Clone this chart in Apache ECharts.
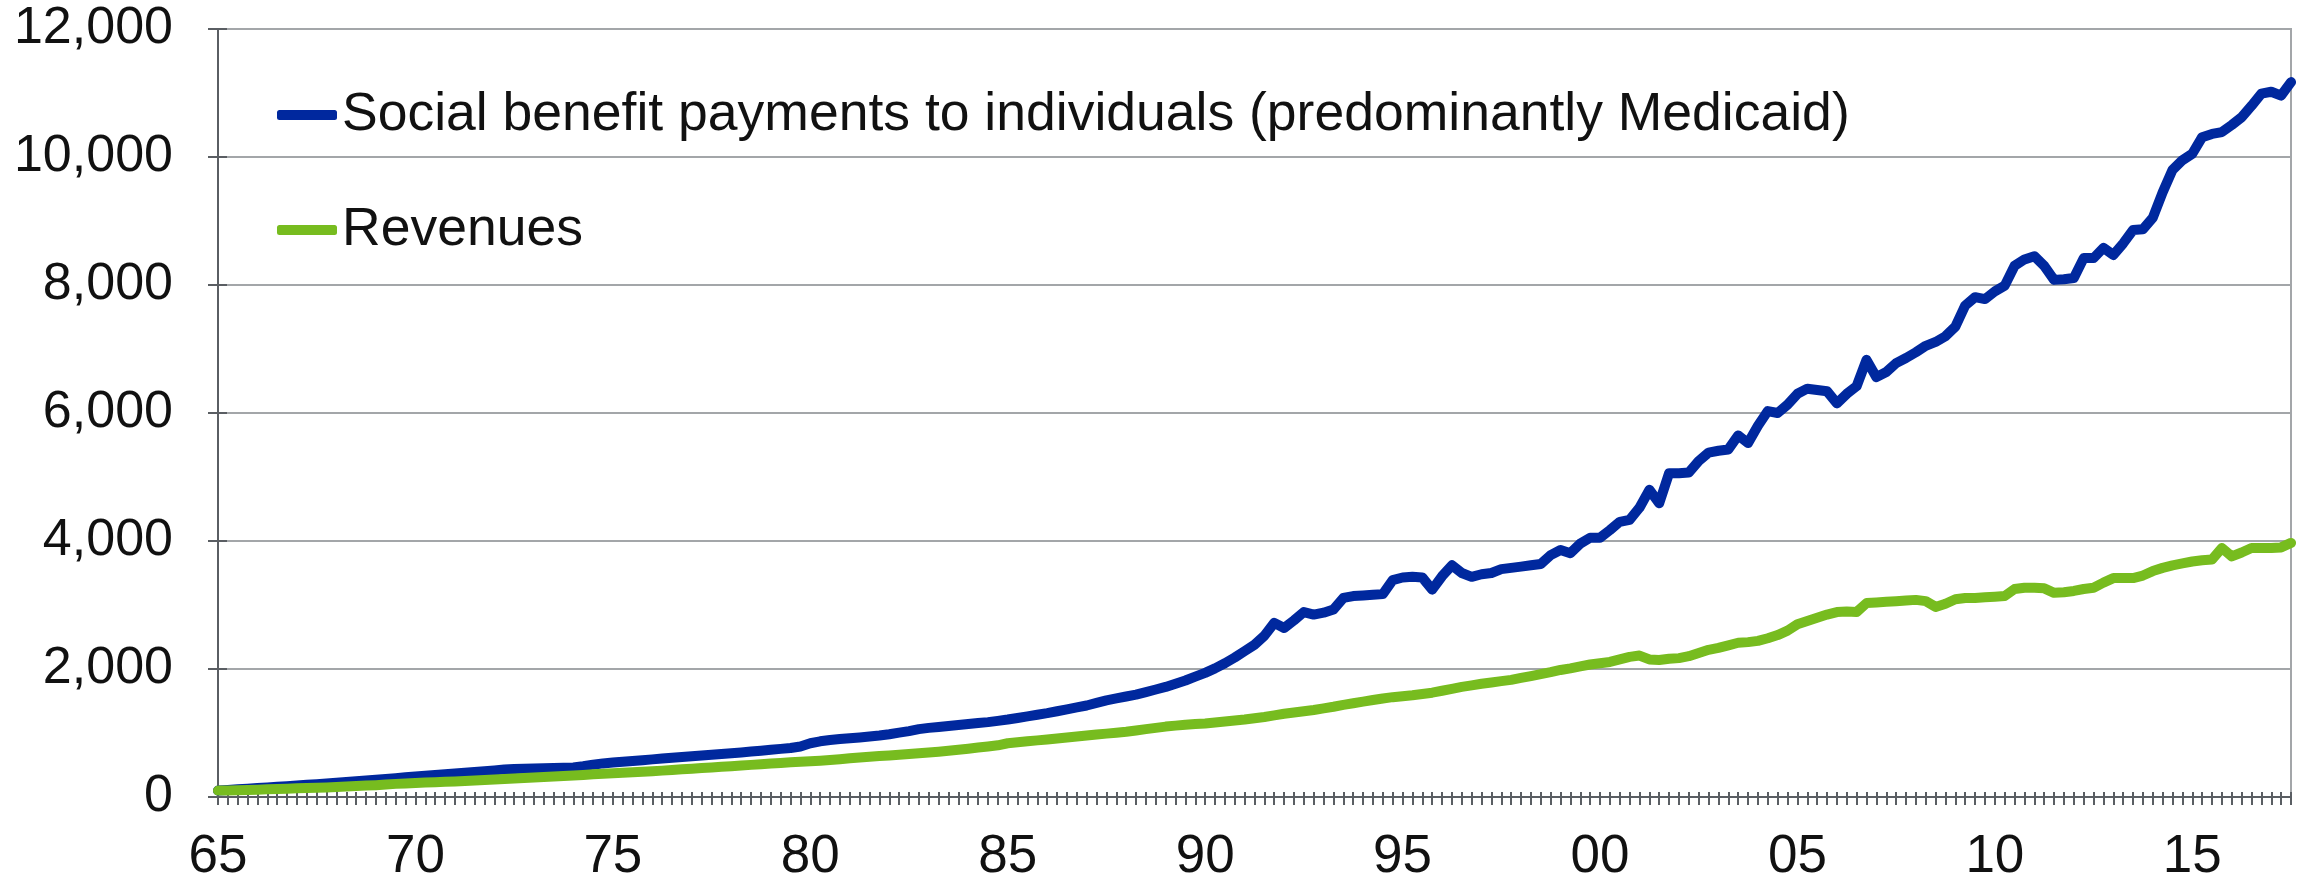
<!DOCTYPE html>
<html>
<head>
<meta charset="utf-8">
<script src="https://cdn.jsdelivr.net/npm/echarts@6/dist/echarts.min.js"></script>
<style>
html,body{margin:0;padding:0;background:#fff;}
#chart{width:2303px;height:885px;}
</style>
</head>
<body>
<div id="chart"></div>
<script>
// Quarterly, 1965Q1 .. 2017Q3
const firstYear = 1965;
const lastYear = 2017;
const lastQuarter = 3;

const seriesNames = [
  "Social benefit payments to individuals (predominantly Medicaid)",
  "Revenues"
];

// Social benefit payments to individuals (blue), one row per year, 4 quarters
const socialBenefits = [
  100, 110, 120, 130,      // 1965
  140, 150, 160, 170,      // 1966
  180, 190, 200, 210,      // 1967
  222, 234, 246, 258,      // 1968
  270, 282, 295, 308,      // 1969
  320, 332, 344, 356,      // 1970
  368, 380, 392, 404,      // 1971
  416, 428, 436, 440,      // 1972
  444, 448, 452, 456,      // 1973
  460, 480, 505, 525,      // 1974
  538, 550, 562, 575,      // 1975
  588, 600, 612, 624,      // 1976
  636, 648, 660, 672,      // 1977
  684, 696, 710, 724,      // 1978
  738, 752, 766, 790,      // 1979
  840, 870, 890, 905,      // 1980
  918, 930, 945, 960,      // 1981
  980, 1005, 1030, 1060,   // 1982
  1080, 1095, 1110, 1125,  // 1983
  1140, 1155, 1170, 1190,  // 1984
  1210, 1235, 1260, 1285,  // 1985
  1310, 1340, 1370, 1400,  // 1986
  1430, 1470, 1510, 1540,  // 1987
  1570, 1600, 1640, 1680,  // 1988
  1720, 1770, 1820, 1880,  // 1989
  1940, 2010, 2090, 2180,  // 1990
  2280, 2380, 2520, 2720,  // 1991
  2640, 2760, 2890, 2850,  // 1992
  2880, 2930, 3110, 3140,  // 1993
  3150, 3160, 3170, 3390,  // 1994
  3430, 3440, 3430, 3240,  // 1995
  3450, 3620, 3500, 3440,  // 1996
  3480, 3500, 3560, 3580,  // 1997
  3600, 3620, 3640, 3780,  // 1998
  3860, 3810, 3960, 4050,  // 1999
  4050, 4170, 4300, 4330,  // 2000
  4520, 4800, 4590, 5060,  // 2001
  5060, 5070, 5250, 5380,  // 2002
  5410, 5430, 5650, 5530,  // 2003
  5800, 6030, 6000, 6130,  // 2004
  6300, 6380, 6360, 6340,  // 2005
  6150, 6300, 6420, 6830,  // 2006
  6560, 6640, 6780, 6860,  // 2007
  6950, 7050, 7110, 7200,  // 2008
  7350, 7680, 7810, 7780,  // 2009
  7900, 7990, 8300, 8400,  // 2010
  8450, 8300, 8080, 8090,  // 2011
  8110, 8420, 8420, 8580,  // 2012
  8470, 8650, 8860, 8870,  // 2013
  9050, 9450, 9800, 9950,  // 2014
  10050, 10310, 10360, 10390, // 2015
  10500, 10620, 10800, 10990, // 2016
  11020, 10960, 11170         // 2017
];

// Revenues (green)
const revenues = [
  100, 103, 106, 110,      // 1965
  115, 120, 125, 130,      // 1966
  135, 140, 145, 150,      // 1967
  157, 164, 171, 178,      // 1968
  185, 195, 205, 212,      // 1969
  220, 225, 232, 238,      // 1970
  244, 250, 257, 264,      // 1971
  272, 280, 288, 296,      // 1972
  304, 312, 320, 328,      // 1973
  336, 345, 354, 362,      // 1974
  370, 378, 386, 394,      // 1975
  402, 412, 422, 432,      // 1976
  442, 452, 462, 472,      // 1977
  482, 492, 502, 512,      // 1978
  522, 532, 542, 552,      // 1979
  560, 568, 578, 590,      // 1980
  605, 618, 630, 640,      // 1981
  650, 660, 672, 684,      // 1982
  696, 708, 722, 738,      // 1983
  755, 772, 790, 808,      // 1984
  840, 855, 870, 885,      // 1985
  900, 915, 930, 945,      // 1986
  960, 975, 990, 1005,     // 1987
  1020, 1040, 1060, 1080,  // 1988
  1100, 1115, 1130, 1140,  // 1989
  1150, 1165, 1180, 1195,  // 1990
  1210, 1230, 1250, 1275,  // 1991
  1300, 1320, 1340, 1360,  // 1992
  1385, 1410, 1440, 1465,  // 1993
  1490, 1515, 1540, 1560,  // 1994
  1575, 1590, 1610, 1630,  // 1995
  1660, 1690, 1720, 1745,  // 1996
  1770, 1790, 1810, 1830,  // 1997
  1860, 1890, 1920, 1950,  // 1998
  1985, 2010, 2040, 2070,  // 1999
  2090, 2110, 2150, 2190,  // 2000
  2210, 2150, 2140, 2160,  // 2001
  2170, 2200, 2250, 2300,  // 2002
  2330, 2370, 2410, 2420,  // 2003
  2440, 2480, 2530, 2600,  // 2004
  2700, 2750, 2800, 2850,  // 2005
  2890, 2900, 2890, 3030,  // 2006
  3040, 3050, 3060, 3070,  // 2007
  3080, 3060, 2970, 3020,  // 2008
  3090, 3110, 3110, 3120,  // 2009
  3130, 3140, 3250, 3270,  // 2010
  3270, 3260, 3190, 3200,  // 2011
  3220, 3250, 3270, 3350,  // 2012
  3420, 3420, 3420, 3460,  // 2013
  3530, 3580, 3620, 3650,  // 2014
  3680, 3700, 3710, 3890,  // 2015
  3760, 3820, 3890, 3890,  // 2016
  3890, 3900, 3970         // 2017
];

// Y tick values
const yTicks = [0, 2000, 4000, 6000, 8000, 10000, 12000];

// Build quarter categories
const categories = [];
for (let y = firstYear; y <= lastYear; y++) {
  for (let q = 1; q <= 4; q++) {
    if (y === lastYear && q > lastQuarter) break;
    categories.push(y + "Q" + q);
  }
}

const FONT = "'Liberation Sans', Arial, sans-serif";
const FS = 52;
const axisColor = '#5a5e63';
const gridColor = '#a3a6a9';
const blue = '#00289e';
const green = '#77bc1f';

const chart = echarts.init(document.getElementById('chart'), null, {renderer: 'canvas'});

const xLabelInterval = (index) => index % 20 === 0;

chart.setOption({
  animation: false,
  backgroundColor: '#ffffff',
  textStyle: {fontFamily: FONT},
  grid: {
    left: 218, right: 12, top: 29, bottom: 88,
    show: true, borderColor: gridColor, borderWidth: 2, backgroundColor: 'transparent'
  },
  legend: {
    orient: 'vertical',
    left: 277, top: 85,
    padding: 0,
    itemWidth: 60, itemHeight: 10, itemGap: 55,
    icon: 'roundRect',
    textStyle: {fontFamily: FONT, fontSize: 53.5, color: '#111', lineHeight: 60, padding: [0,0,0,0]},
    data: seriesNames
  },
  xAxis: [{
    type: 'category',
    data: categories,
    boundaryGap: false,
    axisLine: {show: true, lineStyle: {color: axisColor, width: 2}},
    axisTick: {show: true, interval: 0, length: 8, lineStyle: {color: axisColor, width: 2}},
    axisLabel: {
      interval: xLabelInterval,
      formatter: (v) => v.slice(2, 4),
      fontFamily: FONT, fontSize: 53, color: '#111', margin: 34
    },
    splitLine: {show: false}
  }, {
    type: 'category',
    data: categories,
    boundaryGap: false,
    position: 'bottom',
    axisLine: {show: false},
    axisTick: {show: true, inside: true, interval: 0, length: 5, lineStyle: {color: axisColor, width: 2}},
    axisLabel: {show: false},
    splitLine: {show: false}
  }],
  yAxis: [{
    type: 'value',
    min: yTicks[0], max: yTicks[yTicks.length - 1], interval: 2000,
    axisLine: {show: true, lineStyle: {color: axisColor, width: 2}},
    axisTick: {show: true, length: 10, lineStyle: {color: axisColor, width: 2}},
    axisLabel: {
      fontFamily: FONT, fontSize: FS, color: '#111', margin: 45,
      formatter: (v) => v.toLocaleString('en-US')
    },
    splitLine: {show: true, lineStyle: {color: gridColor, width: 2}}
  }, {
    type: 'value',
    min: yTicks[0], max: yTicks[yTicks.length - 1], interval: 2000,
    position: 'left',
    axisLine: {show: false},
    axisTick: {show: true, inside: true, length: 9, lineStyle: {color: axisColor, width: 2}},
    axisLabel: {show: false},
    splitLine: {show: false}
  }],
  series: [{
    name: seriesNames[0],
    type: 'line',
    data: socialBenefits,
    showSymbol: false,
    symbol: 'none',
    lineStyle: {color: blue, width: 10, cap: 'round', join: 'round'},
    itemStyle: {color: blue},
    z: 3
  }, {
    name: seriesNames[1],
    type: 'line',
    data: revenues,
    showSymbol: false,
    symbol: 'none',
    lineStyle: {color: green, width: 10, cap: 'round', join: 'round'},
    itemStyle: {color: green},
    z: 4
  }]
});
</script>
</body>
</html>
